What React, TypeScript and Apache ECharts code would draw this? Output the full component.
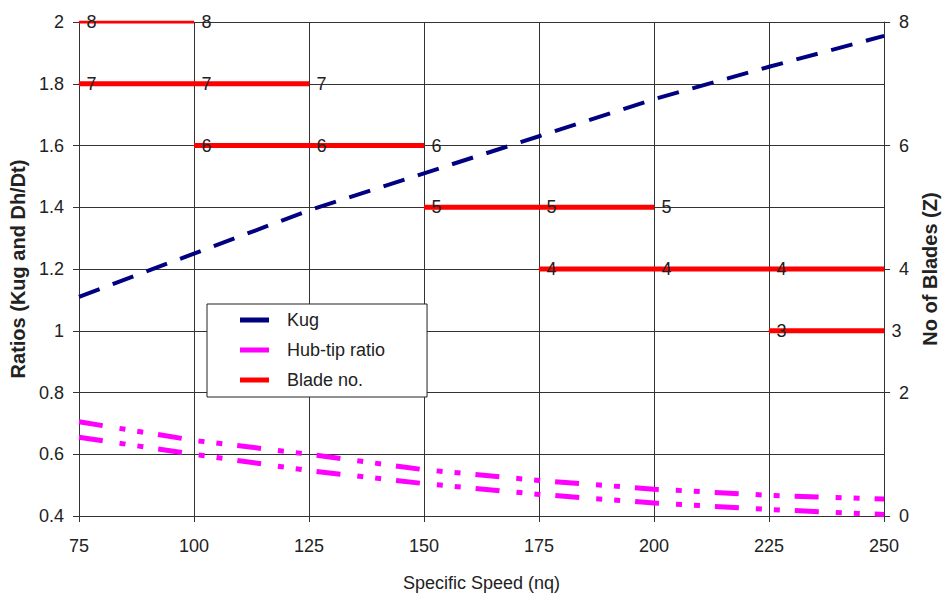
import React, { useEffect, useRef } from "react";
import * as echarts from "echarts";

// Specific speed (x) values
const speeds = [75, 100, 125, 150, 175, 200, 225, 250];
// Kug ratio
const kugValues = [1.11, 1.25, 1.39, 1.51, 1.63, 1.75, 1.855, 1.955];
// Hub-tip ratio, upper and lower curves
const hubTipUpper = [0.705, 0.645, 0.6, 0.55, 0.515, 0.487, 0.467, 0.455];
const hubTipLower = [0.655, 0.6, 0.547, 0.505, 0.47, 0.442, 0.421, 0.405];
// Blade numbers and the specific speeds each one spans
const bladeCounts = [8, 7, 6, 5, 4, 3];
const bladeSpeeds = [
  [75, 100],
  [75, 100, 125],
  [100, 125, 150],
  [150, 175, 200],
  [175, 200, 225, 250],
  [225, 250],
];
// Points whose label is hidden (count@speed)
const hiddenBladeLabels = ["4@250"];

const legendNames = ["Kug", "Hub-tip ratio", "Blade no."];

const FONT = "'Liberation Sans', Arial, Helvetica, sans-serif";
const TXT = "#222";
const GRID = "#333";

export default function App() {
  const ref = useRef<HTMLDivElement>(null);

  useEffect(() => {
    if (!ref.current) return;
    const chart = echarts.init(ref.current, undefined, { renderer: "svg" });

    const bladeSeries = bladeCounts.map((count, i) => ({
      type: "line",
      name: "Blade no.",
      yAxisIndex: 1,
      symbol: "circle",
      symbolSize: 1,
      clip: true,
      z: 3,
      lineStyle: { color: "#FF0000", width: count === 8 ? 3 : 5 },
      itemStyle: { color: "#FF0000" },
      label: {
        show: true,
        position: "right",
        distance: 7,
        fontSize: 18,
        color: TXT,
        fontFamily: FONT,
        formatter: String(count),
      },
      data: bladeSpeeds[i].map((x) => ({
        value: [x, count],
        label: { show: !hiddenBladeLabels.includes(`${count}@${x}`) },
      })),
    }));

    const option = {
      animation: false,
      textStyle: { fontFamily: FONT },
      grid: { left: 79, right: 57, top: 22, bottom: 81 },
      legend: {
        data: legendNames,
        orient: "vertical",
        left: 207,
        top: 304,
        icon: "rect",
        itemWidth: 29,
        itemHeight: 5,
        itemGap: 12,
        padding: [7, 42, 8, 33],
        backgroundColor: "#fff",
        borderColor: "#222",
        borderWidth: 1,
        selectedMode: false,
        textStyle: { fontSize: 18, color: TXT, fontFamily: FONT, padding: [0, 0, 0, 13] },
      },
      xAxis: {
        type: "value",
        min: 75,
        max: 250,
        interval: 25,
        name: "Specific Speed (nq)",
        nameLocation: "middle",
        nameGap: 58,
        nameTextStyle: { fontSize: 18, color: TXT, fontFamily: FONT },
        axisLine: { show: true, onZero: false, lineStyle: { color: GRID, width: 1 } },
        axisTick: { show: true, length: 6, lineStyle: { color: GRID } },
        axisLabel: { fontSize: 18, color: TXT, margin: 21, fontFamily: FONT },
        splitLine: { show: true, lineStyle: { color: GRID, width: 1 } },
      },
      yAxis: [
        {
          type: "value",
          position: "left",
          min: 0.4,
          max: 2,
          interval: 0.2,
          name: "Ratios (Kug and Dh/Dt)",
          nameLocation: "middle",
          nameGap: 47,
          nameTextStyle: { fontSize: 20, fontWeight: "bold", color: TXT, fontFamily: FONT },
          axisLine: { show: true, lineStyle: { color: GRID, width: 1 } },
          axisTick: { show: true, length: 6, lineStyle: { color: GRID } },
          axisLabel: { fontSize: 18, color: TXT, margin: 15, fontFamily: FONT },
          splitLine: { show: true, lineStyle: { color: GRID, width: 1 } },
        },
        {
          type: "value",
          position: "right",
          min: 0,
          max: 8,
          interval: 2,
          name: "No of Blades (Z)",
          nameLocation: "middle",
          nameGap: 35,
          nameTextStyle: { fontSize: 20, fontWeight: "bold", color: TXT, fontFamily: FONT },
          axisLine: { show: true, lineStyle: { color: GRID, width: 1 } },
          axisTick: { show: true, length: 6, lineStyle: { color: GRID } },
          axisLabel: { fontSize: 18, color: TXT, margin: 15, fontFamily: FONT },
          splitLine: { show: false },
        },
      ],
      series: [
        {
          type: "line",
          name: "Kug",
          yAxisIndex: 0,
          symbol: "none",
          z: 4,
          lineStyle: { color: "#000080", width: 4, type: [22, 14] },
          itemStyle: { color: "#000080" },
          data: speeds.map((x, i) => [x, kugValues[i]]),
        },
        {
          type: "line",
          name: "Hub-tip ratio",
          yAxisIndex: 0,
          symbol: "none",
          z: 4,
          lineStyle: { color: "#FF00FF", width: 5, type: [24, 17, 6, 12, 6, 15] },
          itemStyle: { color: "#FF00FF" },
          data: speeds.map((x, i) => [x, hubTipUpper[i]]),
        },
        {
          type: "line",
          name: "Hub-tip ratio",
          yAxisIndex: 0,
          symbol: "none",
          z: 4,
          lineStyle: { color: "#FF00FF", width: 5, type: [24, 17, 6, 12, 6, 15] },
          itemStyle: { color: "#FF00FF" },
          data: speeds.map((x, i) => [x, hubTipLower[i]]),
        },
        ...bladeSeries,
      ],
    };

    chart.setOption(option as any);
    return () => chart.dispose();
  }, []);

  return (
    <div
      ref={ref}
      style={{ position: "absolute", left: 0, top: 0, width: 948, height: 597, background: "#fff" }}
    />
  );
}
